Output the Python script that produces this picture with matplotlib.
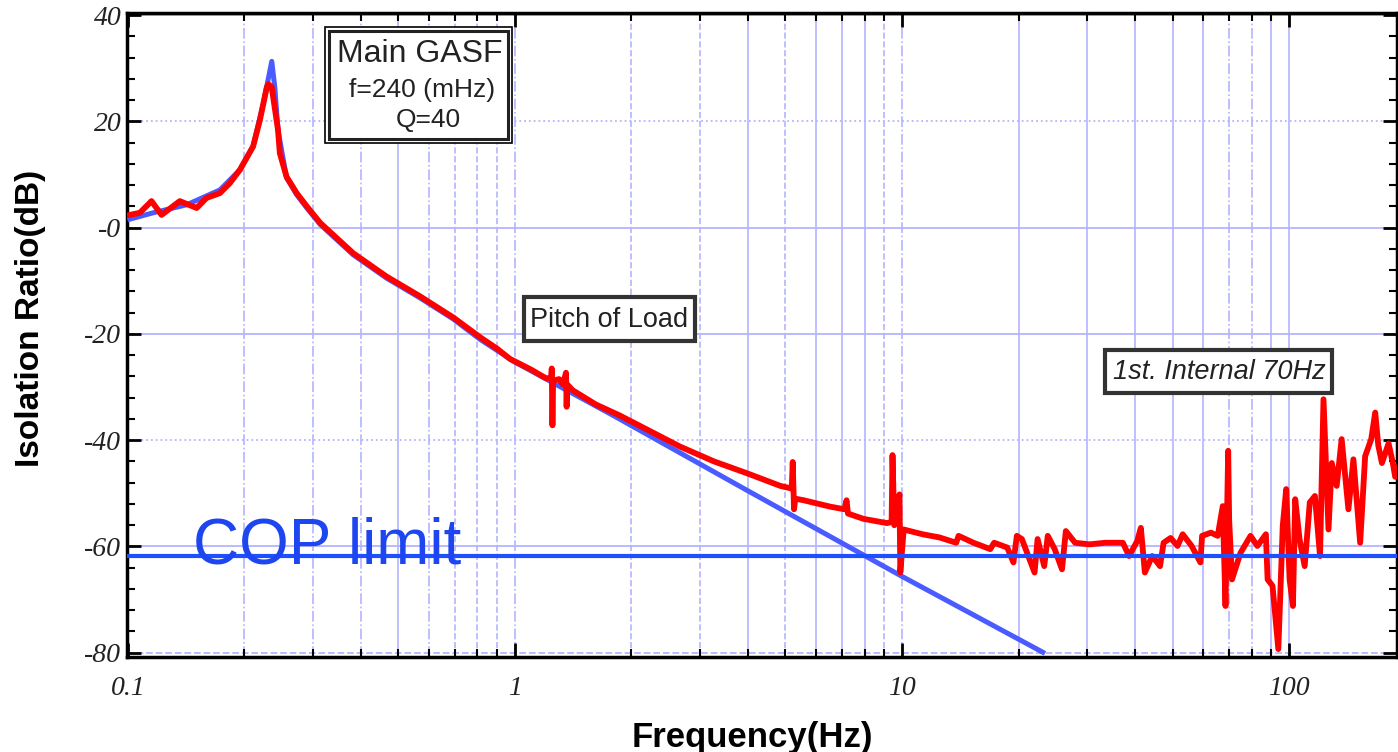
import matplotlib
matplotlib.use("Agg")
import matplotlib.pyplot as plt
from matplotlib.patches import Rectangle
from matplotlib.ticker import FixedLocator, MultipleLocator, NullFormatter

# measured isolation ratio (red trace)
meas_freq = [0.1012, 0.1074, 0.1151, 0.1222, 0.1362, 0.1506, 0.1597, 0.1729, 0.1835,
             0.1948, 0.2107, 0.2194, 0.2285, 0.2307, 0.2354, 0.2443, 0.247, 0.257,
             0.273, 0.290, 0.314, 0.382, 0.466, 0.568, 0.693, 0.812, 0.90, 0.971,
             1.10, 1.20, 1.24, 1.245, 1.25, 1.255, 1.30, 1.33, 1.355, 1.36, 1.365,
             1.41, 1.62, 1.86, 2.18, 2.67, 3.27, 3.97, 4.85, 5.19, 5.22, 5.26, 5.30,
             5.57, 6.52, 7.1, 7.19, 7.25, 7.95, 9.14, 9.4, 9.45, 9.55, 9.85, 9.9,
             10.1, 11.3, 12.5, 13.8, 14.0, 15.3, 16.9, 17.3, 18.7, 19.4, 19.8, 20.4,
             21.2, 22.0, 22.4, 23.3, 23.8, 24.8, 25.9, 26.5, 28.0, 30.5, 33.5, 37.2,
             38.6, 40.5, 41.4, 42.4, 44.3, 46.4, 47.4, 49.4, 51.5, 53.1, 56.0, 59.0,
             59.6, 62.8, 65.4, 67.4, 68.5, 69.6, 70.0, 71.2, 74.9, 79.5, 82.8, 87.1,
             88.0, 90.6, 93.8, 96.3, 98.3, 100.3, 102.3, 103.7, 106.4, 109.7, 113.1,
             116.6, 120.2, 122.7, 126.4, 128.9, 132.7, 136.7, 142.3, 146.6, 152.6,
             157.2, 163.0, 166.9, 170.0, 173.7, 180.7, 185.0, 188.0, 192.0]
meas_db = [2.4, 2.8, 5.0, 2.4, 5.0, 3.7, 5.6, 6.5, 8.4,
           10.9, 15.3, 20.3, 26.4, 27.0, 26.4, 18.4, 14.0, 9.6,
           6.5, 4.0, 0.9, -4.8, -9.2, -12.9, -16.9, -20.6, -22.8, -24.7,
           -26.7, -28.3, -28.4, -26.5, -37.2, -28.8, -28.5, -29.5, -27.3, -33.7, -29.5,
           -30.6, -33.3, -35.3, -37.9, -41.2, -44.0, -46.2, -48.6, -49.1, -44.1, -53.0, -51.0,
           -51.3, -52.5, -53.0, -51.3, -53.8, -54.8, -55.6, -55.4, -42.8, -56.0, -50.2, -64.9,
           -56.8, -57.7, -58.3, -59.3, -58.0, -59.3, -60.5, -59.3, -60.2, -63.0, -58.0, -58.6,
           -61.8, -64.9, -58.6, -63.7, -58.0, -60.5, -64.3, -57.1, -59.3, -59.6, -59.3, -59.3,
           -61.8, -59.0, -56.5, -64.9, -61.8, -63.7, -59.3, -58.4, -59.9, -57.7, -59.9, -63.0,
           -58.0, -57.4, -58.0, -52.4, -71.2, -42.0, -54.9, -66.2, -61.2, -58.0, -59.9, -57.7,
           -66.2, -67.4, -79.3, -56.1, -49.2, -66.2, -71.2, -51.1, -58.6, -63.7, -51.7,
           -50.5, -61.8, -32.3, -56.8, -44.3, -48.6, -39.8, -53.0, -43.6, -59.3,
           -43.0, -39.8, -34.8, -41.0, -44.3, -40.6, -44.0, -46.9, -45.0]

# GASF model (blue trace)
model_freq = [0.1012, 0.1162, 0.1418, 0.1729, 0.1948, 0.2107, 0.2238, 0.2354, 0.2397,
              0.2443, 0.257, 0.273, 0.290, 0.314, 0.382, 0.466, 0.568, 0.693, 0.812,
              1.0, 1.79, 3.97, 7.34, 10.04, 23.1]
model_db = [1.6, 2.8, 4.3, 7.1, 10.9, 15.3, 23.3, 31.3, 26.4,
            18.4, 9.4, 6.2, 3.7, 0.6, -5.1, -9.5, -13.2, -17.2, -21.0,
            -25.3, -35.3, -49.4, -60.2, -65.7, -79.9]

cop_limit = -61.8

xticks = [0.1, 1, 10, 100]
xticklabels = ["0.1", "1", "10", "100"]
yticks = [-80, -60, -40, -20, 0, 20, 40]
yticklabels = ["-80", "-60", "-40", "-20", "-0", "20", "40"]

W, H = 1398, 752


def fx(px):
    return px / W


def fy(py):
    return 1 - py / H


fig = plt.figure(figsize=(W / 100, H / 100), dpi=100)
ax = fig.add_axes([fx(127), fy(657), fx(1397) - fx(127), fy(13) - fy(657)])
ax.set_xscale("log")
ax.set_xlim(0.0995, 190)
ax.set_ylim(-80.8, 40.4)

# grid, drawn by hand because the line styles vary
gcol = "#b4b4ff"
vlines = []
for dec in [0.1, 1, 10, 100]:
    for m in range(1, 10):
        f = m * dec
        if 0.1 < f < 190:
            vlines.append(round(f, 3))
vstyle = {0.5: "-", 4: "-", 6: "-", 7: "-", 8: "-", 20: "-", 30: "-", 40: "-",
          50: "-", 60: "-", 90: "-", 100: "-", 2: "--", 3: "--", 5: "--", 9: "--",
          0.7: "--", 0.8: "--", 0.9: "--"}
for f in vlines:
    ax.axvline(f, color=gcol, lw=1.2, ls=vstyle.get(f, "-."), zorder=1)
hstyle = {40: "-", 20: ":", 0: "-", -20: "-", -40: ":", -60: "-", -80: "--"}
for v, s in hstyle.items():
    ax.axhline(v, color=gcol, lw=1.3, ls=s, zorder=1)

ax.plot(model_freq, model_db, color="#4a5cff", lw=3.6, zorder=3)
ax.plot(meas_freq, meas_db, color="#ff0000", lw=4.2, zorder=4)
ax.axhline(cop_limit, color="#1e50ff", lw=3.0, zorder=5)

ax.xaxis.set_major_locator(FixedLocator(xticks))
ax.set_xticklabels(xticklabels)
ax.xaxis.set_minor_formatter(NullFormatter())
ax.yaxis.set_major_locator(FixedLocator(yticks))
ax.set_yticklabels(yticklabels)
ax.yaxis.set_minor_locator(MultipleLocator(4))

ax.tick_params(which="both", direction="in", top=True, right=True, color="black")
ax.tick_params(which="major", length=10, width=2)
ax.tick_params(which="minor", length=6, width=1.5)
ax.tick_params(axis="x", pad=14)
ax.tick_params(axis="y", pad=4)
for lab in ax.get_xticklabels() + ax.get_yticklabels():
    lab.set_family("Liberation Serif")
    lab.set_style("italic")
    lab.set_fontsize(20)
    lab.set_color("#222222")
for sp in ax.spines.values():
    sp.set_linewidth(2.5)

ax.text(fx(193), fy(563), "COP limit", transform=fig.transFigure, fontsize=46,
        family="Liberation Sans", color="#1e46f0", va="baseline", zorder=6)

fig.text(fx(752), fy(737), "Frequency(Hz)", ha="center", va="center",
         fontsize=25, fontweight="bold", family="Liberation Sans")
fig.text(fx(31), fy(318), "Isolation Ratio(dB)", ha="center", va="center",
         rotation=90, fontsize=24, fontweight="bold", family="Liberation Sans")


def box(x0, y0, x1, y1, lw, color="#222222"):
    fig.patches.append(Rectangle((fx(x0), fy(y1)), fx(x1) - fx(x0), fy(y0) - fy(y1),
                                 transform=fig.transFigure, fill=True, fc="white",
                                 ec=color, lw=lw, zorder=7))


# main GASF label (double border)
box(325, 27, 512, 143, 1.2, "black")
box(329, 31, 508, 139, 2.2)
fig.text(fx(337), fy(54), "Main GASF", fontsize=23, family="Liberation Sans",
         va="center", color="#222222", zorder=8)
fig.text(fx(349), fy(90), "f=240 (mHz)", fontsize=19, family="Liberation Sans",
         va="center", color="#222222", zorder=8)
fig.text(fx(396), fy(120), "Q=40", fontsize=19, family="Liberation Sans",
         va="center", color="#222222", zorder=8)

box(524, 297, 695, 341, 3.0, "#333333")
fig.text(fx(609), fy(320), "Pitch of Load", fontsize=19.5, family="Liberation Sans",
         ha="center", va="center", color="#222222", zorder=8)

box(1105, 350, 1332, 393, 3.0, "#333333")
fig.text(fx(1219), fy(372), "1st. Internal 70Hz", fontsize=19.5, style="italic",
         family="Liberation Sans", ha="center", va="center", color="#222222", zorder=8)

fig.savefig("out.png", dpi=100)
